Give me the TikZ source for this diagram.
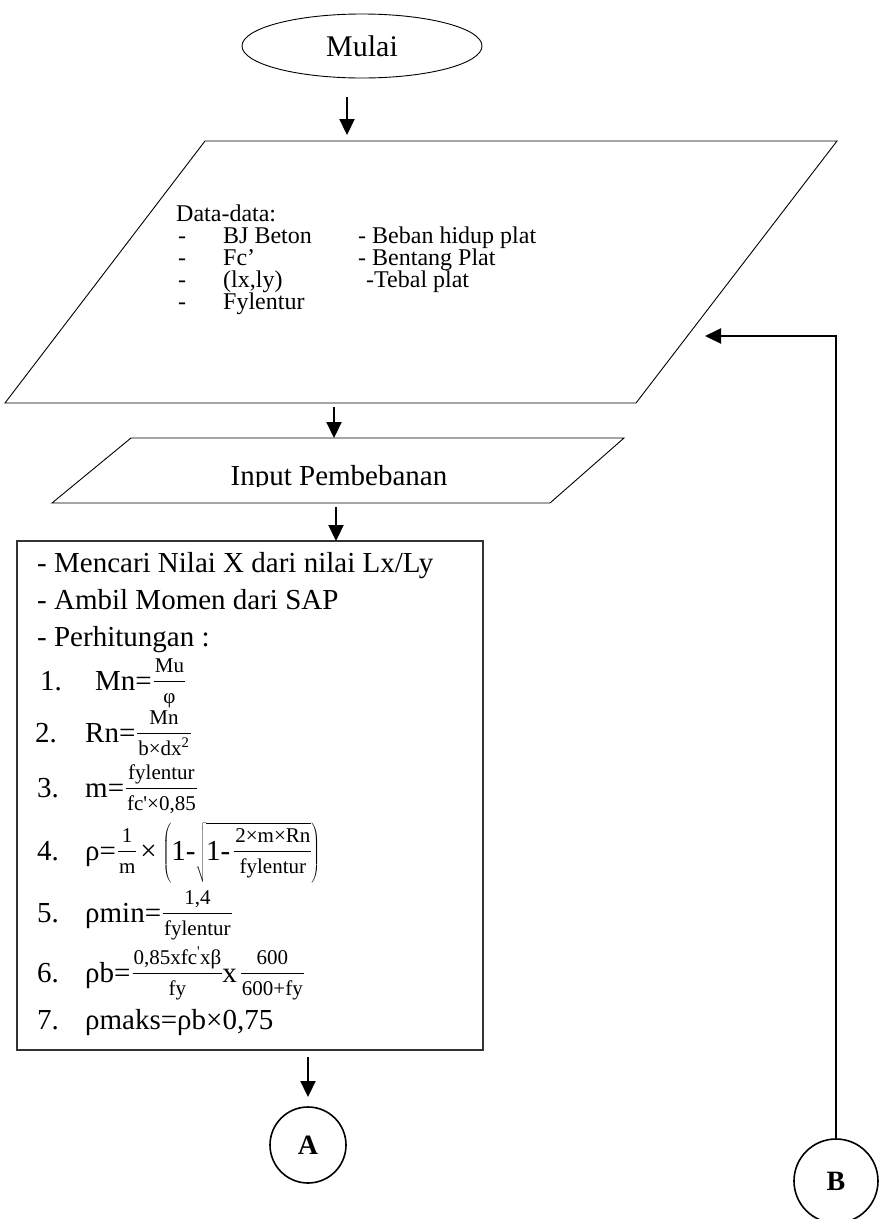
\RequirePackage{fix-cm}
\documentclass[tikz,border=0pt]{standalone}
\usepackage{fontspec}
\setmainfont{Liberation Serif}
\usetikzlibrary{arrows.meta,calc,shapes.geometric}
\newcommand\fr[2]{\hspace{2pt}\raisebox{18pt}{\fontsize{21}{22}\selectfont\setlength\arrayrulewidth{1.3pt}\renewcommand\arraystretch{0}\begin{tabular}[t]{@{\hspace{1pt}}c@{\hspace{1pt}}}\rule[-9pt]{0pt}{25pt}#1\\\hline\rule[-7pt]{0pt}{28pt}#2\end{tabular}}}
\tikzset{
  shp/.style={draw, line width=0.9pt},
  conn/.style={line width=2.2pt, -{Triangle[length=16pt,width=15pt]}},
  rt/.style={anchor=base west, inner sep=0pt, font=\fontsize{29}{35}\selectfont},
  dt/.style={anchor=base west, inner sep=0pt, font=\fontsize{24}{28}\selectfont},
  lbl/.style={font=\fontsize{28}{32}\selectfont\bfseries},
}
\begin{document}
\begin{tikzpicture}[x=1pt,y=-1pt]
\useasboundingbox (0,0) rectangle (888,1219);
% start
\node[shp, ellipse, minimum width=240pt, minimum height=64pt, inner sep=0pt,
      font=\fontsize{30}{36}\selectfont] (mulai) at (362,46) {Mulai};
% data parallelogram
\draw[shp] (205,141) coordinate (d1) -- (837,141) coordinate (d2) -- (636,403) coordinate (d3) -- (5,403) coordinate (d4) -- cycle;
\node[dt] (dh) at (176,221) {Data-data:};
\node[dt] (da1) at (178,243) {-};
\node[dt] (db1) at (223,243) {BJ Beton};
\node[dt] (dc1) at (358,243) {- Beban hidup plat};
\node[dt] (da2) at (178,265) {-};
\node[dt] (db2) at (223,265) {Fc’};
\node[dt] (dc2) at (358,265) {- Bentang Plat};
\node[dt] (da3) at (178,287) {-};
\node[dt] (db3) at (223,287) {(lx,ly)};
\node[dt] (dc3) at (366,287) {-Tebal plat};
\node[dt] (da4) at (178,309) {-};
\node[dt] (db4) at (223,309) {Fylentur};
% input parallelogram
\draw[shp] (131,438) coordinate (i1) -- (624,438) coordinate (i2) -- (550,503) coordinate (i3) -- (52,503) coordinate (i4) -- cycle;
\begin{scope}
\clip (0,0) rectangle (888,486);
\node[anchor=base, inner sep=0pt, font=\fontsize{29}{34}\selectfont] (inp) at (339,485) {Input Pembebanan};
\end{scope}
% process rectangle
\draw[line width=1.1pt, black!80] (17,541) coordinate (r1) rectangle (483,1050) coordinate (r2);
\node[rt] (l1) at (37,572) {- Mencari Nilai X dari nilai Lx/Ly};
\node[rt] (l2) at (37,609) {- Ambil Momen dari SAP};
\node[rt] (l3) at (37,646) {- Perhitungan :};
\node[rt] (l4) at (40,690) {\makebox[55pt][l]{1.}Mn=\fr{Mu}{φ}};
\node[rt] (l5) at (35,742) {\makebox[50pt][l]{2.}Rn=\fr{Mn}{b×dx\textsuperscript{2}}};
\node[rt] (l6) at (37,797) {\makebox[48pt][l]{3.}m=\fr{fylentur}{fc\textquotesingle×0,85}};
\node[rt] (l7) at (37,860) {\makebox[48pt][l]{4.}ρ=\fr{1}{m}\hspace{4pt}×\hspace{6pt}$\left(\mbox{1-}\sqrt{\mbox{1-\hspace{2pt}\fr{2×m×Rn}{fylentur}}}\right)$};
\node[rt] (l8) at (37,922) {\makebox[48pt][l]{5.}ρmin=\fr{1,4}{fylentur}};
\node[rt] (l9) at (37,982) {\makebox[48pt][l]{6.}ρb=\fr{0,85xfc\textsuperscript{\textquotesingle}xβ}{fy}x\hspace{2pt}\fr{600}{600+fy}};
\node[rt] (l10) at (37,1029) {\makebox[48pt][l]{7.}ρmaks=ρb×0,75};
% connectors
\coordinate (a1s) at (347,97);  \coordinate (a1e) at (347,135);
\coordinate (a2s) at (334,407); \coordinate (a2e) at (334,438);
\coordinate (a3s) at (336,507); \coordinate (a3e) at (336,541);
\coordinate (a4s) at (308,1057); \coordinate (a4e) at (308,1097);
\draw[conn] (a1s) -- (a1e);
\draw[conn] (a2s) -- (a2e);
\draw[conn] (a3s) -- (a3e);
\draw[conn] (a4s) -- (a4e);
% connector circles
\node[draw, circle, line width=1.6pt, minimum size=76pt, inner sep=0pt, lbl] (A) at (308,1145) {A};
\node[draw, circle, line width=1.6pt, minimum size=84pt, inner sep=0pt, lbl] (B) at (836,1181) {B};
\coordinate (ret) at (705,336);
\draw[conn] (B.north) |- (ret);
\end{tikzpicture}
\end{document}
